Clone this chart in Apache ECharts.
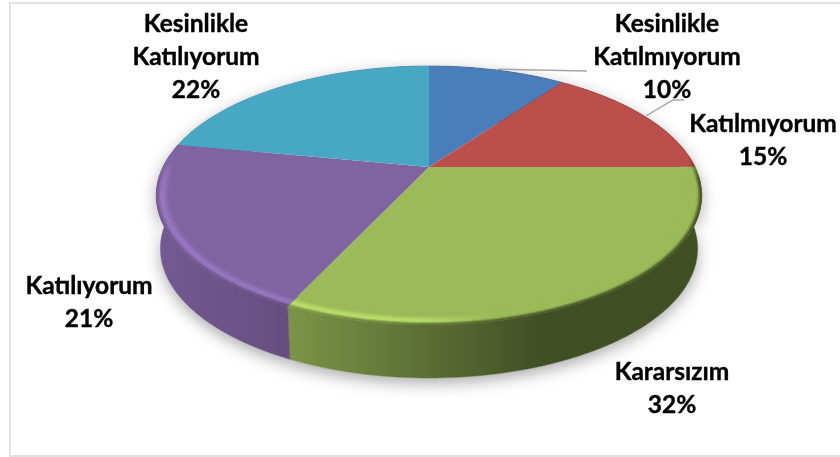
<!DOCTYPE html>
<html>
<head>
<meta charset="utf-8">
<style>html,body{margin:0;padding:0;background:#fff}#chart{width:840px;height:457px}</style>
<script src="https://cdn.jsdelivr.net/npm/echarts@6/dist/echarts.min.js"></script>
</head>
<body>
<div id="chart"></div>
<script>
// Survey answers, clockwise from twelve o'clock
const categories = ['Kesinlikle\nKatılmıyorum', 'Katılmıyorum', 'Kararsızım', 'Katılıyorum', 'Kesinlikle\nKatılıyorum'];
const values = [10, 15, 32, 21, 22];
const colors = ['#4a7ebb', '#bb4f4c', '#9bbb59', '#8064a2', '#48a8c4'];

// Label boxes: centre of the text block, optional leader elbow points
const labelLayout = [
  { x: 667, y: 57, leader: [[587, 71]] },
  { x: 763, y: 141, leader: [[673, 100], [684, 100]] },
  { x: 672, y: 389 },
  { x: 89, y: 303 },
  { x: 196, y: 57 }
];

// Tilted disc: a unit circle seen in perspective, pivot at (cx, cy)
const cx = 429, cy = 167, kx = 266, ky = 123.2, persp = 0.22;
const depth = 53, baseScale = 0.985;
const total = values.reduce((a, b) => a + b, 0);

function project(theta, r, drop) {
  const u = r * Math.sin(theta), v = -r * Math.cos(theta);
  const w = 1 - persp * v;
  const s = drop ? baseScale : 1;
  return [cx + s * kx * u / w, cy + ky * v / w + (drop ? depth : 0)];
}
function sliceAngles(i) {
  let before = 0;
  for (let j = 0; j < i; j++) before += values[j];
  return [before / total * 2 * Math.PI, (before + values[i]) / total * 2 * Math.PI];
}
function arc(a0, a1, r, drop) {
  const n = Math.max(2, Math.ceil((a1 - a0) / 0.02));
  const pts = [];
  for (let k = 0; k <= n; k++) pts.push(project(a0 + (a1 - a0) * k / n, r, drop));
  return pts;
}
function rgb(hex) {
  return [1, 3, 5].map(p => parseInt(hex.substr(p, 2), 16));
}
function mix(c, target, t) {
  return c.map((ch, i) => ch + (target[i] - ch) * t);
}
function css(c) {
  return 'rgb(' + c.map(Math.round).join(',') + ')';
}
function clamp01(t) {
  return Math.max(0, Math.min(1, t));
}
function smooth(e0, e1, t) {
  const s = clamp01((t - e0) / (e1 - e0));
  return s * s * (3 - 2 * s);
}
// Wall shading runs left to right: lit on the left, deep shade on the right
const wallShade = [[156, 0.9], [297, 0.78], [420, 0.6], [540, 0.42], [702, 0.42]];
function shadeAt(x) {
  for (let n = 1; n < wallShade.length; n++) {
    if (x <= wallShade[n][0]) {
      const a = wallShade[n - 1], b = wallShade[n];
      return a[1] + (b[1] - a[1]) * clamp01((x - a[0]) / (b[0] - a[0]));
    }
  }
  return wallShade[wallShade.length - 1][1];
}
function wallFill(hex) {
  const c = rgb(hex);
  return {
    type: 'linear', global: true, x: 156, y: 0, x2: 702, y2: 0,
    colorStops: wallShade.map(s => ({ offset: (s[0] - 156) / 546, color: css(c.map(ch => ch * s[1])) }))
  };
}
function wallPolygon(i) {
  const [a0, a1] = sliceAngles(i);
  return arc(a0, a1, 1, false).concat(arc(a0, a1, 1, true).reverse());
}
// Rounded rim: face colour rises to a highlight on the lit side, then melts into the wall tone
function rimQuads(i) {
  const out = [];
  const [s0, s1] = sliceAngles(i);
  const a0 = Math.max(s0, 84 * Math.PI / 180), a1 = Math.min(s1, 276 * Math.PI / 180);
  if (a1 <= a0) return out;
  const steps = Math.ceil((a1 - a0) / 0.03), ringCount = 10, inner = 0.94;
  const base = rgb(colors[i]);
  const bright = base.map(ch => Math.min(255, ch * 1.2));
  for (let k = 0; k < steps; k++) {
    const t0 = a0 + (a1 - a0) * k / steps, t1 = a0 + (a1 - a0) * (k + 1) / steps;
    const tm = (t0 + t1) / 2;
    const taper = smooth(-0.1, 0.12, -Math.cos(tm));
    const xm = project(tm, 1, false)[0];
    const h = (xm - cx) / 273;
    const wall = base.map(ch => ch * shadeAt(xm));
    const lit = clamp01((0.25 - h) / 0.3);
    for (let q = 0; q < ringCount; q++) {
      const r0 = inner + (1 - inner) * q / ringCount, r1 = inner + (1 - inner) * (q + 1) / ringCount;
      const f = (q + 0.5) / ringCount;
      let c = mix(base, bright, lit * smooth(0.2, 0.7, f) * taper);
      c = mix(c, wall, smooth(0.7, 1, f) * taper);
      const col = css(c);
      out.push({
        type: 'polygon',
        shape: { points: [project(t0, r0, false), project(t1, r0, false), project(t1, r1, false), project(t0, r1, false)] },
        style: { fill: col, stroke: col, lineWidth: 0.6 }
      });
    }
  }
  return out;
}

const seriesData = values.map((v, i) => ({ name: categories[i], value: v }));

const chart = echarts.init(document.getElementById('chart'), null, { renderer: 'canvas' });
chart.setOption({
  animation: false,
  backgroundColor: '#ffffff',
  graphic: [{
    type: 'polyline', silent: true, z: 0,
    shape: { points: [[860, 3], [10, 3], [10, 456], [860, 456]] },
    style: { stroke: '#e2e2e2', lineWidth: 2, fill: null }
  }],
  series: [
    {
      // soft drop shadow under the disc
      type: 'custom', coordinateSystem: 'none', silent: true, z: 1, data: seriesData,
      renderItem: (p, api) => ({
        type: 'polygon',
        shape: { points: wallPolygon(p.dataIndex) },
        style: { fill: '#ffffff', shadowColor: 'rgba(0,0,0,0.34)', shadowBlur: 16, shadowOffsetY: 5 }
      })
    },
    {
      type: 'custom', coordinateSystem: 'none', silent: true, z: 2, data: seriesData,
      renderItem: (p, api) => ({
        type: 'polygon',
        shape: { points: wallPolygon(p.dataIndex) },
        style: { fill: wallFill(colors[p.dataIndex]), stroke: wallFill(colors[p.dataIndex]), lineWidth: 0.5 }
      })
    },
    {
      type: 'custom', coordinateSystem: 'none', silent: true, z: 3, data: seriesData,
      renderItem: (p, api) => {
        const i = p.dataIndex;
        const [a0, a1] = sliceAngles(i);
        return {
          type: 'group',
          children: [{
            type: 'polygon',
            shape: { points: [[cx, cy]].concat(arc(a0, a1, 1, false)) },
            style: { fill: colors[i] }
          }].concat(rimQuads(i))
        };
      }
    },
    {
      type: 'custom', coordinateSystem: 'none', silent: true, z: 4, data: seriesData,
      renderItem: (p, api) => {
        const i = p.dataIndex;
        const [a0, a1] = sliceAngles(i);
        const box = labelLayout[i];
        const children = [];
        if (box.leader) {
          children.push({
            type: 'polyline',
            shape: { points: [project((a0 + a1) / 2, 1.01, false)].concat(box.leader) },
            style: { stroke: '#a6a6a6', lineWidth: 1.4, fill: null }
          });
        }
        children.push({
          type: 'text',
          style: {
            x: box.x, y: box.y,
            text: categories[i] + '\n' + values[i] + '%',
            align: 'center', verticalAlign: 'middle',
            font: 'bold 24.5px Lato', lineHeight: 33, fill: '#000000',
            stroke: '#000000', lineWidth: 0.4
          }
        });
        return { type: 'group', children };
      }
    }
  ]
});
</script>
</body>
</html>
